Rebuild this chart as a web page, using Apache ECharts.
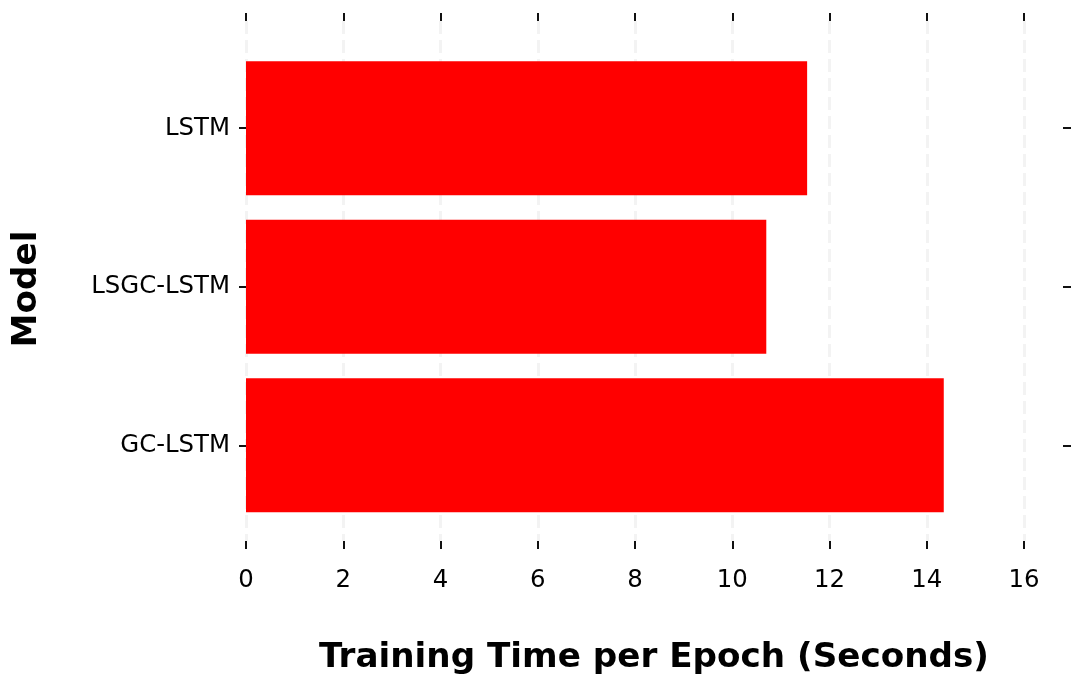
<!DOCTYPE html>
<html>
<head>
<meta charset="utf-8">
<script src="https://cdn.jsdelivr.net/npm/echarts@6/dist/echarts.min.js"></script>
<style>
  html, body { margin: 0; padding: 0; background: #fff; }
  #chart { width: 1073px; height: 677px; }
</style>
</head>
<body>
<div id="chart"></div>
<script>
// data, bottom to top
const models = ['GC-LSTM', 'LSGC-LSTM', 'LSTM'];
const trainTime = [14.35, 10.70, 11.54];
const xTicks = [0, 16, 2]; // min, max, interval

const font = 'DejaVu Sans';
const chart = echarts.init(document.getElementById('chart'));

const tickStyle = { show: true, inside: false, length: 8, lineStyle: { color: '#111', width: 2 } };

const option = {
  backgroundColor: '#fff',
  animation: false,
  grid: [
    // frame for ticks + gridlines
    { left: 246, right: 49, top: 21, bottom: 136 },
    // bars
    { left: 246, right: 49, top: 48.9, bottom: 152.4 }
  ],
  xAxis: [
    {
      gridIndex: 0, type: 'value', position: 'bottom',
      min: xTicks[0], max: xTicks[1], interval: xTicks[2],
      axisLine: { show: false },
      axisTick: tickStyle,
      axisLabel: { color: '#000', fontFamily: font, fontSize: 24.4, margin: 28 },
      splitLine: { show: true, lineStyle: { color: '#f3f3f3', width: 3, type: [13, 6] } }
    },
    {
      gridIndex: 0, type: 'value', position: 'top',
      min: xTicks[0], max: xTicks[1], interval: xTicks[2],
      axisLine: { show: false },
      axisTick: tickStyle,
      axisLabel: { show: false },
      splitLine: { show: false }
    },
    {
      gridIndex: 1, type: 'value',
      min: xTicks[0], max: xTicks[1], interval: xTicks[2],
      show: false
    }
  ],
  yAxis: [
    { gridIndex: 0, type: 'value', min: 0, max: 1, show: false },
    {
      gridIndex: 1, type: 'category', position: 'left', data: models,
      axisLine: { show: false },
      axisTick: Object.assign({}, tickStyle, { alignWithLabel: true, length: 7 }),
      axisLabel: { color: '#000', fontFamily: font, fontSize: 24.4, margin: 16 },
      splitLine: { show: false }
    },
    {
      gridIndex: 1, type: 'category', position: 'right', offset: 39, data: models,
      axisLine: { show: false },
      axisTick: Object.assign({}, tickStyle, { alignWithLabel: true }),
      axisLabel: { show: false },
      splitLine: { show: false }
    }
  ],
  series: [
    {
      type: 'bar',
      xAxisIndex: 2,
      yAxisIndex: 1,
      data: trainTime,
      barCategoryGap: '15.5%',
      itemStyle: { color: '#ff0000' },
      silent: true
    }
  ],
  graphic: [
    {
      type: 'text', x: 654, y: 658,
      style: {
        text: 'Training Time per Epoch (Seconds)',
        font: 'bold 34.2px "DejaVu Sans"', fill: '#000',
        align: 'center', verticalAlign: 'middle'
      }
    },
    {
      type: 'text', x: 27, y: 289, rotation: Math.PI / 2,
      style: {
        text: 'Model',
        font: 'bold 34.2px "DejaVu Sans"', fill: '#000',
        align: 'center', verticalAlign: 'middle'
      }
    }
  ]
};

chart.setOption(option);
</script>
</body>
</html>
